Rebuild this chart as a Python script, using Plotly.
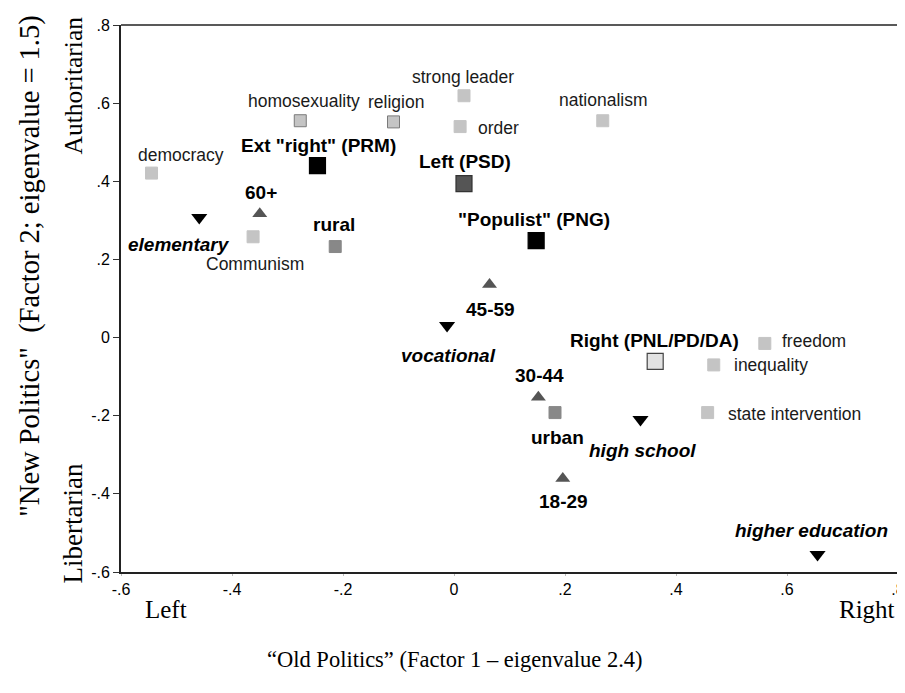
import plotly.graph_objects as go

# ---------------- data ----------------
issue_labels = ["democracy", "homosexuality", "religion", "strong leader", "order",
                "nationalism", "Communism", "freedom", "inequality", "state intervention"]
issue_x = [-0.545, -0.277, -0.109, 0.018, 0.011, 0.268, -0.362, 0.560, 0.468, 0.457]
issue_y = [0.421, 0.555, 0.552, 0.619, 0.540, 0.555, 0.258, -0.015, -0.070, -0.192]

place_labels = ["rural", "urban"]
place_x = [-0.214, 0.182]
place_y = [0.233, -0.192]

party_labels = ['Ext "right" (PRM)', "Left (PSD)", '"Populist" (PNG)', "Right (PNL/PD/DA)"]
party_x = [-0.246, 0.018, 0.148, 0.3625]
party_y = [0.440, 0.394, 0.248, -0.061]

age_labels = ["60+", "45-59", "30-44", "18-29"]
age_x = [-0.350, 0.064, 0.152, 0.196]
age_y = [0.317, 0.136, -0.153, -0.361]

edu_labels = ["elementary", "vocational", "high school", "higher education"]
edu_x = [-0.459, -0.0125, 0.336, 0.655]
edu_y = [0.307, 0.031, -0.210, -0.555]

x_tickvals = [-0.6, -0.4, -0.2, 0, 0.2, 0.4, 0.6, 0.8]
x_ticktext = ["-.6", "-.4", "-.2", "0", ".2", ".4", ".6", ".8"]
y_tickvals = [-0.6, -0.4, -0.2, 0, 0.2, 0.4, 0.6, 0.8]
y_ticktext = ["-.6", "-.4", "-.2", "0", ".2", ".4", ".6", ".8"]

# ---------------- styling ----------------
SANS = "Liberation Sans, Arial, sans-serif"
SERIF = "Liberation Serif, Times New Roman, serif"
LIGHT = "#c4c4c4"

issue_line = ["#c4c4c4", "#7a7a7a", "#7a7a7a", "#c4c4c4", "#c4c4c4",
              "#c4c4c4", "#c4c4c4", "#c4c4c4", "#c4c4c4", "#c4c4c4"]
party_fill = ["#000000", "#555555", "#000000", "#e2e2e2"]
party_line = ["#000000", "#333333", "#000000", "#444444"]

# label offsets in screen pixels (dx right, dy down) and anchor
label_style = {
    "democracy": (29, -18, "center"), "homosexuality": (4, -20, "center"),
    "religion": (2, -20, "center"), "strong leader": (-1, -19, "center"),
    "order": (16, 1, "left"), "nationalism": (1, -21, "center"),
    "Communism": (2, 27, "center"), "freedom": (15, -2, "left"),
    "inequality": (18, 0, "left"), "state intervention": (18, 1, "left"),
    "rural": (-1, -22, "center"), "urban": (2, 25, "center"),
    'Ext "right" (PRM)': (1, -20, "center"), "Left (PSD)": (1, -22, "center"),
    '"Populist" (PNG)': (-2, -21, "center"), "Right (PNL/PD/DA)": (-1, -21, "center"),
    "60+": (1, -21, "center"), "45-59": (1, 25, "center"),
    "30-44": (1, -22, "center"), "18-29": (1, 23, "center"),
    "elementary": (-20, 27, "center"), "vocational": (1, 30, "center"),
    "high school": (2, 31, "center"), "higher education": (-6, -24, "center"),
}

fig = go.Figure()

fig.add_trace(go.Scatter(x=issue_x, y=issue_y, mode="markers", cliponaxis=False,
                         marker=dict(symbol="square", size=12, color=LIGHT,
                                     line=dict(color=issue_line, width=1))))
fig.add_trace(go.Scatter(x=place_x, y=place_y, mode="markers", cliponaxis=False,
                         marker=dict(symbol="square", size=12, color="#888888",
                                     line=dict(color="#888888", width=1))))
fig.add_trace(go.Scatter(x=party_x, y=party_y, mode="markers", cliponaxis=False,
                         marker=dict(symbol="square", size=16, color=party_fill,
                                     line=dict(color=party_line, width=1.2))))
fig.add_trace(go.Scatter(x=age_x, y=age_y, mode="markers", cliponaxis=False,
                         marker=dict(symbol="triangle-up", size=13, color="#555555",
                                     line=dict(width=0))))
fig.add_trace(go.Scatter(x=edu_x, y=edu_y, mode="markers", cliponaxis=False,
                         marker=dict(symbol="triangle-down", size=14, color="#000000",
                                     line=dict(width=0))))

def add_labels(labels, xs, ys, font):
    for lab, x, y in zip(labels, xs, ys):
        dx, dy, anchor = label_style[lab]
        fig.add_annotation(x=x, y=y, xref="x", yref="y", text=lab, showarrow=False,
                           xanchor=anchor, yanchor="middle", xshift=dx, yshift=-dy,
                           font=font)

reg = dict(family=SANS, size=17.5, color="#1a1a1a")
bold = dict(family=SANS, size=19, color="#000000", weight="bold")
boldit = dict(family=SANS, size=19, color="#000000", weight="bold", style="italic")

add_labels(issue_labels, issue_x, issue_y, reg)
add_labels(place_labels, place_x, place_y, bold)
add_labels(party_labels, party_x, party_y, bold)
add_labels(age_labels, age_x, age_y, bold)
add_labels(edu_labels, edu_x, edu_y, boldit)

# ---------------- layout ----------------
L, R, T, B = 113, 897, 17, 564
W, H = R - L, B - T

def pix(px, py):
    return (px - L) / W, (B - py) / H

def paper_text(text, px, py, size, angle=0):
    x, y = pix(px, py)
    fig.add_annotation(x=x, y=y, xref="paper", yref="paper", text=text, showarrow=False,
                       xanchor="center", yanchor="middle", textangle=angle,
                       font=dict(family=SERIF, size=size, color="#000000"))

paper_text('"New Politics"  (Factor 2; eigenvalue = 1.5)', 21, 258, 28.5, -90)
paper_text("Authoritarian", 65, 77, 25.5, -90)
paper_text("Libertarian", 65, 515, 27, -90)
paper_text("Left", 158, 601, 25)
paper_text("Right", 866, 601, 25)
paper_text("\u201cOld Politics\u201d (Factor 1 \u2013 eigenvalue 2.4)", 450, 651, 22.5)

# frame: top and right edges
fig.add_shape(type="line", xref="paper", yref="paper", x0=0, x1=1, y0=1, y1=1,
              line=dict(color="#222222", width=1.5))
fig.add_shape(type="line", xref="paper", yref="paper", x0=1, x1=1, y0=0, y1=1,
              line=dict(color="#555555", width=1))

fig.update_layout(
    width=905, height=693,
    margin=dict(l=L, r=905 - R, t=T, b=693 - B),
    plot_bgcolor="white", paper_bgcolor="white", showlegend=False,
    xaxis=dict(range=[-0.6, 0.8], tickvals=x_tickvals, ticktext=x_ticktext,
               showgrid=False, zeroline=False, showline=True, linecolor="#222222",
               linewidth=2, ticks="outside", ticklen=2, tickcolor="#bbbbbb", tickwidth=1,
               tickfont=dict(family=SANS, size=16, color="#000000")),
    yaxis=dict(range=[-0.6, 0.8], tickvals=y_tickvals, ticktext=y_ticktext,
               showgrid=False, zeroline=False, showline=True, linecolor="#222222",
               linewidth=2, ticks="outside", ticklen=6, tickcolor="#333333", tickwidth=1,
               tickfont=dict(family=SANS, size=16, color="#000000")),
)

fig.write_html("out.html")
